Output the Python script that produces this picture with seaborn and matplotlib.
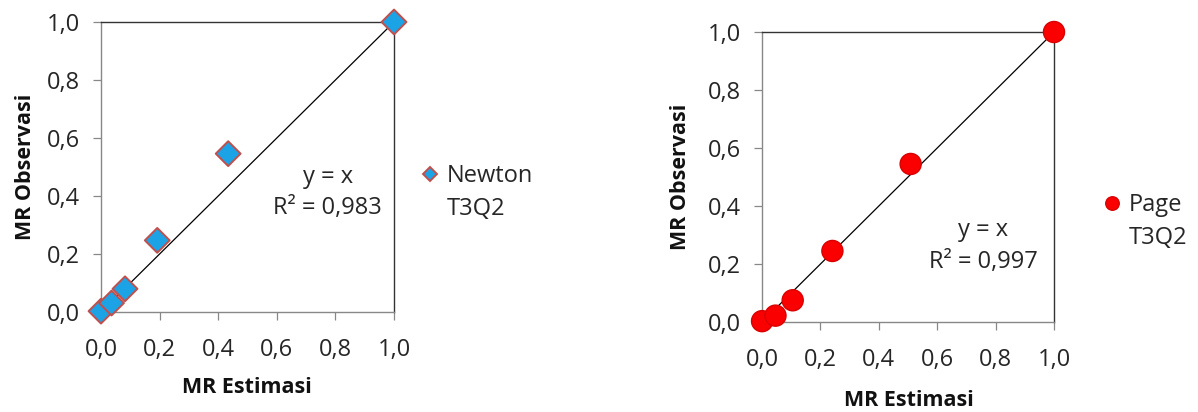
import numpy as np
import pandas as pd
import seaborn as sns
import matplotlib
matplotlib.use("Agg")
import matplotlib.pyplot as plt

# Data
newton_est = [0.0, 0.036, 0.082, 0.192, 0.434, 1.0]
newton_obs = [0.003, 0.031, 0.080, 0.247, 0.546, 1.0]
page_est = [0.0, 0.046, 0.105, 0.241, 0.509, 1.0]
page_obs = [0.003, 0.022, 0.075, 0.245, 0.545, 1.0]
ticks = [0.0, 0.2, 0.4, 0.6, 0.8, 1.0]
tick_labels = ["0,0", "0,2", "0,4", "0,6", "0,8", "1,0"]
newton_label = ["Newton", "T3Q2"]
page_label = ["Page", "T3Q2"]
newton_r2 = "R² = 0,983"
page_r2 = "R² = 0,997"

sns.set_theme(style="white")
plt.rcParams['font.family'] = ['Open Sans', 'DejaVu Sans']

fig = plt.figure(figsize=(11.98, 4.12), dpi=100)
ax1 = fig.add_axes([0.0843, 0.2427, 0.2446, 0.7039])
ax2 = fig.add_axes([0.6361, 0.2184, 0.2437, 0.7039])

df_n = pd.DataFrame({"est": newton_est, "obs": newton_obs, "s": newton_label[0]})
df_p = pd.DataFrame({"est": page_est, "obs": page_obs, "s": page_label[0]})

sns.scatterplot(data=df_n, x="est", y="obs", hue="s", palette=["#1CA3E6"], marker="D",
                s=160, edgecolor="#C0504D", linewidth=1.4, ax=ax1, zorder=3, clip_on=False)
sns.scatterplot(data=df_p, x="est", y="obs", hue="s", palette=["#FA0000"], marker="o",
                s=230, edgecolor="#DA0000", linewidth=1.0, ax=ax2, zorder=3, clip_on=False)

configs = [
    (ax1, newton_r2, newton_label[1], (0.775, 0.466), (0.771, 0.359), (1.082, 0.469), 0.55,
     (0.498, -0.259), (-0.259, 0.5)),
    (ax2, page_r2, page_label[1], (0.757, 0.317), (0.757, 0.207), (1.158, 0.403), 0.64,
     (0.503, -0.269), (-0.281, 0.5)),
]

for ax, r2, line2, yx_pos, r2_pos, leg_anchor, mscale, xl_pos, yl_pos in configs:
    ax.plot([0, 1], [0, 1], color="#000000", linewidth=0.9, zorder=2)
    ax.set_xlim(0, 1)
    ax.set_ylim(0, 1)
    ax.set_xticks(ticks)
    ax.set_xticklabels(tick_labels)
    ax.set_yticks(ticks)
    ax.set_yticklabels(tick_labels)
    ax.tick_params(axis="both", which="major", labelsize=17, length=6, width=0.9,
                   color="#888888", pad=9, direction="out", bottom=True, left=True,
                   labelcolor="#262626")
    ax.tick_params(axis="x", pad=12.5)
    for side in ["left", "bottom"]:
        ax.spines[side].set_color("#888888")
        ax.spines[side].set_linewidth(1.0)
    for side in ["top", "right"]:
        ax.spines[side].set_color("#333333")
        ax.spines[side].set_linewidth(1.0)
        ax.spines[side].set_visible(True)
    ax.set_xlabel("MR Estimasi", fontsize=15.5, fontweight="bold", color="#111111")
    ax.set_ylabel("MR Observasi", fontsize=15.5, fontweight="bold", color="#111111")
    ax.xaxis.set_label_coords(*xl_pos)
    ax.yaxis.set_label_coords(*yl_pos)
    ax.xaxis.label.set_va("center")
    ax.yaxis.label.set_va("center")
    ax.text(yx_pos[0], yx_pos[1], "y = x", transform=ax.transAxes, ha="center", va="center",
            fontsize=17, color="#262626")
    ax.text(r2_pos[0], r2_pos[1], r2, transform=ax.transAxes, ha="center", va="center",
            fontsize=17, color="#262626")
    leg = ax.legend(loc="center left", bbox_to_anchor=leg_anchor, frameon=False,
                    fontsize=17, handlelength=1.0, handletextpad=0.2, borderaxespad=0,
                    borderpad=0, markerscale=mscale, labelcolor="#262626")
    ax.annotate(line2, xy=(0, 0.5), xycoords=leg.get_texts()[0], xytext=(0, -23.8),
                textcoords="offset points", ha="left", va="center", fontsize=17,
                color="#262626", zorder=10, annotation_clip=False)

fig.savefig("out.png", dpi=100)
